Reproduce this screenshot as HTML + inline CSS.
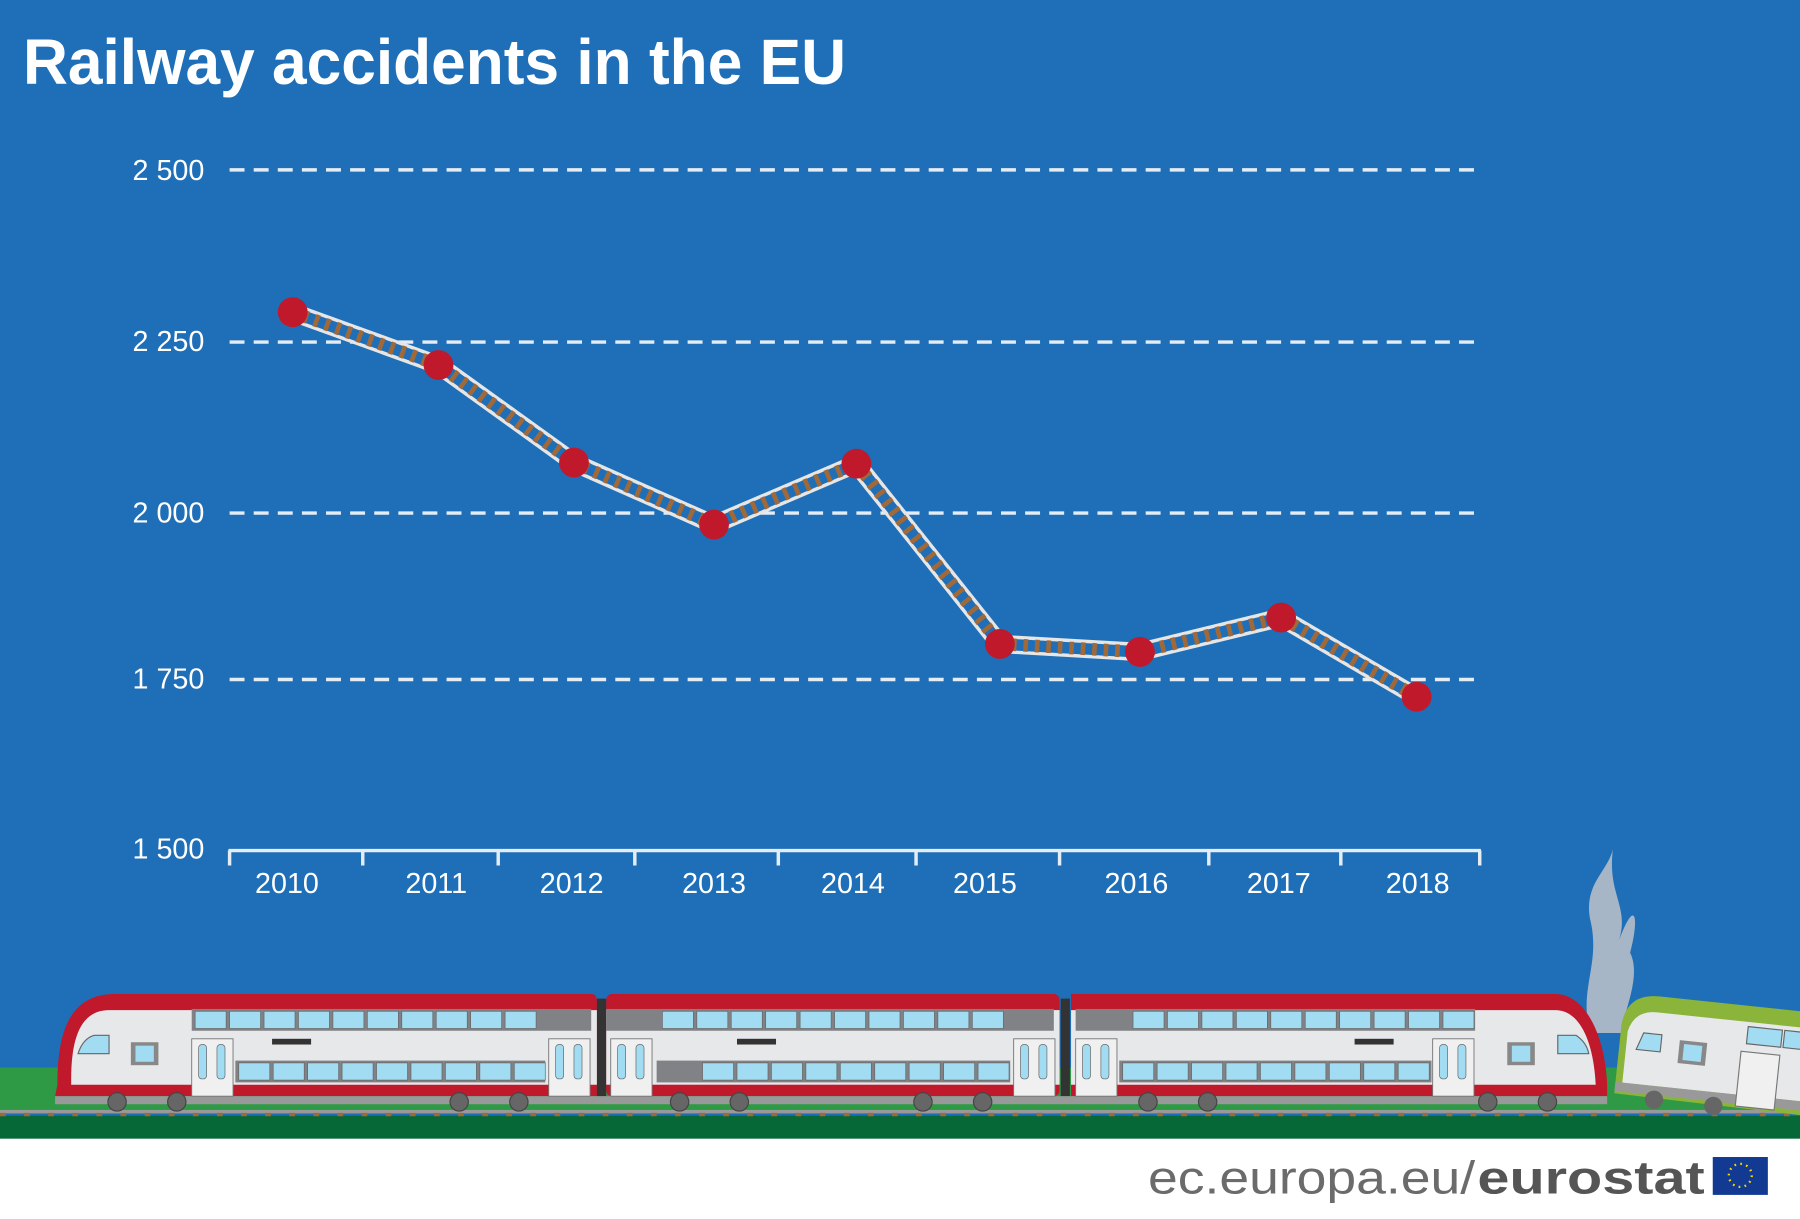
<!DOCTYPE html>
<html><head><meta charset="utf-8"><style>
html,body{margin:0;padding:0;background:#fff}
svg{display:block}
text{font-family:"Liberation Sans",sans-serif}
</style></head><body>
<svg width="1800" height="1219" viewBox="0 0 1568 1062" preserveAspectRatio="none" xmlns="http://www.w3.org/2000/svg">
<rect x="0" y="0" width="1568" height="992" fill="#1f6fb8"/>
<rect x="0" y="992" width="1568" height="70" fill="#fff"/>
<text x="20" y="73" font-size="56" font-weight="bold" fill="#fff" textLength="717" lengthAdjust="spacingAndGlyphs">Railway accidents in the EU</text>
<g stroke="#e4ecf4" stroke-width="3" stroke-dasharray="13 8">
<line x1="200" y1="148" x2="1290" y2="148"/>
<line x1="200" y1="298" x2="1290" y2="298"/>
<line x1="200" y1="447" x2="1290" y2="447"/>
<line x1="200" y1="592" x2="1290" y2="592"/>
</g>
<g fill="#fff" font-size="25" text-anchor="end">
<text x="178" y="157">2 500</text>
<text x="178" y="306">2 250</text>
<text x="178" y="455">2 000</text>
<text x="178" y="600">1 750</text>
<text x="178" y="748">1 500</text>
</g>
<g stroke="#e4ecf4" stroke-width="3" fill="none">
<line x1="199" y1="741" x2="1290" y2="741"/>
<path d="M200 741v13M316 741v13M434 741v13M553 741v13M678 741v13M798 741v13M923 741v13M1053 741v13M1168 741v13M1289 741v13"/>
</g>
<g fill="#fff" font-size="25" text-anchor="middle">
<text x="250" y="778">2010</text><text x="380" y="778">2011</text><text x="498" y="778">2012</text>
<text x="622" y="778">2013</text><text x="743" y="778">2014</text><text x="858" y="778">2015</text>
<text x="990" y="778">2016</text><text x="1114" y="778">2017</text><text x="1235" y="778">2018</text>
</g>
<g fill="none" stroke-linejoin="miter">
<polyline points="255,272 382,318 500,403 622,457 746,404 871,561 993,568 1116,538 1234,607" stroke="#e6e6e6" stroke-width="16"/>
<polyline points="255,272 382,318 500,403 622,457 746,404 871,561 993,568 1116,538 1234,607" stroke="#1f6fb8" stroke-width="10"/>
<polyline points="255,272 382,318 500,403 622,457 746,404 871,561 993,568 1116,538 1234,607" stroke="#a0693a" stroke-width="11" stroke-dasharray="4 6"/>
</g>
<g fill="#c0192c">
<circle cx="255" cy="272" r="13"/><circle cx="382" cy="318" r="13"/><circle cx="500" cy="403" r="13"/>
<circle cx="622" cy="457" r="13"/><circle cx="746" cy="404" r="13"/><circle cx="871" cy="561" r="13"/>
<circle cx="993" cy="568" r="13"/><circle cx="1116" cy="538" r="13"/><circle cx="1234" cy="607" r="13"/>
</g>
<!-- ground -->
<rect x="0" y="930" width="1568" height="40" fill="#2e9a45"/>
<rect x="0" y="972" width="1568" height="20" fill="#066837"/>
<rect x="0" y="967" width="1568" height="3" fill="#999"/>
<line x1="0" y1="971" x2="1568" y2="971" stroke="#a0693a" stroke-width="3" stroke-dasharray="5 16"/>
<!-- smoke -->
<path d="M1385 900 C1375 860 1395 840 1385 800 C1380 770 1400 760 1405 740 C1400 780 1420 790 1410 820 C1425 780 1428 800 1420 830 C1430 850 1415 880 1412 900 Z" fill="#bfc3c8" opacity="0.85"/>
<!-- train cars -->
<g>
<path d="M50 945 C50 900 60 866 100 866 L515 866 Q520 866 520 872 L520 955 L48 955 Z" fill="#c0192c"/>
<path d="M62 940 C62 905 70 880 95 880 L520 880 L520 945 L62 945 Z" fill="#e7e8ea"/>
<rect x="528" y="866" width="395" height="89" rx="5" fill="#c0192c"/>
<rect x="528" y="880" width="395" height="65" fill="#e7e8ea"/>
<path d="M933 866 L1355 866 C1380 866 1398 900 1400 945 L1400 955 L933 955 Z" fill="#c0192c"/>
<path d="M933 880 L1355 880 C1375 880 1388 905 1390 945 L933 945 Z" fill="#e7e8ea"/>
<rect x="520" y="870" width="8" height="85" fill="#333"/>
<rect x="924" y="870" width="8" height="85" fill="#333"/>
<rect x="48" y="955" width="1352" height="7" fill="#999"/>
<rect x="167" y="879" width="348" height="19" fill="#808285"/>
<rect x="528" y="879" width="390" height="19" fill="#808285"/>
<rect x="937" y="879" width="348" height="19" fill="#808285"/>
<rect x="205" y="924" width="270" height="19" fill="#808285"/>
<rect x="572" y="924" width="308" height="19" fill="#808285"/>
<rect x="975" y="924" width="272" height="19" fill="#808285"/>
<g fill="#a2dcf2" stroke="#666" stroke-width="0.6">
<path d="M170 881h27v15h-27zM200 881h27v15h-27zM230 881h27v15h-27zM260 881h27v15h-27zM290 881h27v15h-27zM320 881h27v15h-27zM350 881h27v15h-27zM380 881h27v15h-27zM410 881h27v15h-27zM440 881h27v15h-27z"/>
<path d="M577 881h27v15h-27zM607 881h27v15h-27zM637 881h27v15h-27zM667 881h27v15h-27zM697 881h27v15h-27zM727 881h27v15h-27zM757 881h27v15h-27zM787 881h27v15h-27zM817 881h27v15h-27zM847 881h27v15h-27z"/>
<path d="M987 881h27v15h-27zM1017 881h27v15h-27zM1047 881h27v15h-27zM1077 881h27v15h-27zM1107 881h27v15h-27zM1137 881h27v15h-27zM1167 881h27v15h-27zM1197 881h27v15h-27zM1227 881h27v15h-27zM1257 881h27v15h-27z"/>
<path d="M208 926h27v15h-27zM238 926h27v15h-27zM268 926h27v15h-27zM298 926h27v15h-27zM328 926h27v15h-27zM358 926h27v15h-27zM388 926h27v15h-27zM418 926h27v15h-27zM448 926h27v15h-27z"/>
<path d="M612 926h27v15h-27zM642 926h27v15h-27zM672 926h27v15h-27zM702 926h27v15h-27zM732 926h27v15h-27zM762 926h27v15h-27zM792 926h27v15h-27zM822 926h27v15h-27zM852 926h27v15h-27z"/>
<path d="M978 926h27v15h-27zM1008 926h27v15h-27zM1038 926h27v15h-27zM1068 926h27v15h-27zM1098 926h27v15h-27zM1128 926h27v15h-27zM1158 926h27v15h-27zM1188 926h27v15h-27zM1218 926h27v15h-27z"/>
</g>
<g fill="#f0f0f0" stroke="#777" stroke-width="0.8">
<rect x="167" y="905" width="36" height="50"/><rect x="478" y="905" width="36" height="50"/>
<rect x="532" y="905" width="36" height="50"/><rect x="883" y="905" width="36" height="50"/>
<rect x="937" y="905" width="36" height="50"/><rect x="1248" y="905" width="36" height="50"/>
</g>
<g fill="#a2dcf2" stroke="#666" stroke-width="0.6">
<rect x="173" y="910" width="7" height="30" rx="3"/><rect x="189" y="910" width="7" height="30" rx="3"/>
<rect x="484" y="910" width="7" height="30" rx="3"/><rect x="500" y="910" width="7" height="30" rx="3"/>
<rect x="538" y="910" width="7" height="30" rx="3"/><rect x="554" y="910" width="7" height="30" rx="3"/>
<rect x="889" y="910" width="7" height="30" rx="3"/><rect x="905" y="910" width="7" height="30" rx="3"/>
<rect x="943" y="910" width="7" height="30" rx="3"/><rect x="959" y="910" width="7" height="30" rx="3"/>
<rect x="1254" y="910" width="7" height="30" rx="3"/><rect x="1270" y="910" width="7" height="30" rx="3"/>
</g>
<rect x="114" y="908" width="24" height="20" fill="#888"/><rect x="118" y="911" width="16" height="14" fill="#a2dcf2"/>
<rect x="1313" y="908" width="24" height="20" fill="#888"/><rect x="1317" y="911" width="16" height="14" fill="#a2dcf2"/>
<path d="M68 918 Q72 905 82 902 L95 902 L95 918 Z" fill="#a2dcf2" stroke="#666"/>
<path d="M1357 918 L1357 902 L1373 902 Q1382 908 1384 918 Z" fill="#a2dcf2" stroke="#666"/>
<rect x="237" y="905" width="34" height="5" fill="#333"/><rect x="642" y="905" width="34" height="5" fill="#333"/><rect x="1180" y="905" width="34" height="5" fill="#333"/>
<g fill="#666" stroke="#444">
<circle cx="102" cy="960" r="8"/><circle cx="154" cy="960" r="8"/><circle cx="400" cy="960" r="8"/><circle cx="452" cy="960" r="8"/>
<circle cx="592" cy="960" r="8"/><circle cx="644" cy="960" r="8"/><circle cx="804" cy="960" r="8"/><circle cx="856" cy="960" r="8"/>
<circle cx="1000" cy="960" r="8"/><circle cx="1052" cy="960" r="8"/><circle cx="1296" cy="960" r="8"/><circle cx="1348" cy="960" r="8"/>
</g>
</g>
<!-- green derailed car -->
<g transform="rotate(6 1480 920)">
<path d="M1410 960 L1410 900 Q1412 872 1440 872 L1575 872 L1575 962 Z" fill="#8bb43a"/>
<path d="M1416 950 L1416 905 Q1420 886 1440 886 L1575 886 L1575 950 Z" fill="#e7e8ea"/>
<rect x="1410" y="950" width="165" height="8" fill="#999"/>
<path d="M1425 920 L1430 905 L1446 905 L1446 920 Z" fill="#a2dcf2" stroke="#666"/>
<rect x="1462" y="908" width="24" height="20" fill="#888"/><rect x="1466" y="911" width="16" height="14" fill="#a2dcf2"/>
<rect x="1516" y="912" width="34" height="48" fill="#f0f0f0" stroke="#777"/>
<rect x="1520" y="890" width="30" height="15" fill="#a2dcf2" stroke="#666"/>
<rect x="1552" y="890" width="20" height="15" fill="#a2dcf2" stroke="#666"/>
<circle cx="1445" cy="962" r="8" fill="#666"/><circle cx="1497" cy="962" r="8" fill="#666"/>
</g>
<!-- footer -->
<text x="1000" y="1040" font-size="40" fill="#6b6b6b" textLength="285" lengthAdjust="spacingAndGlyphs">ec.europa.eu/</text>
<text x="1287" y="1040" font-size="40" font-weight="bold" fill="#555" textLength="198" lengthAdjust="spacingAndGlyphs">eurostat</text>
<rect x="1492" y="1008" width="48" height="33" fill="#123a92"/>
<circle cx="1516" cy="1024" r="10" fill="none" stroke="#f5d800" stroke-width="2" stroke-dasharray="1.5 3.7"/>
</svg>
</body></html>
